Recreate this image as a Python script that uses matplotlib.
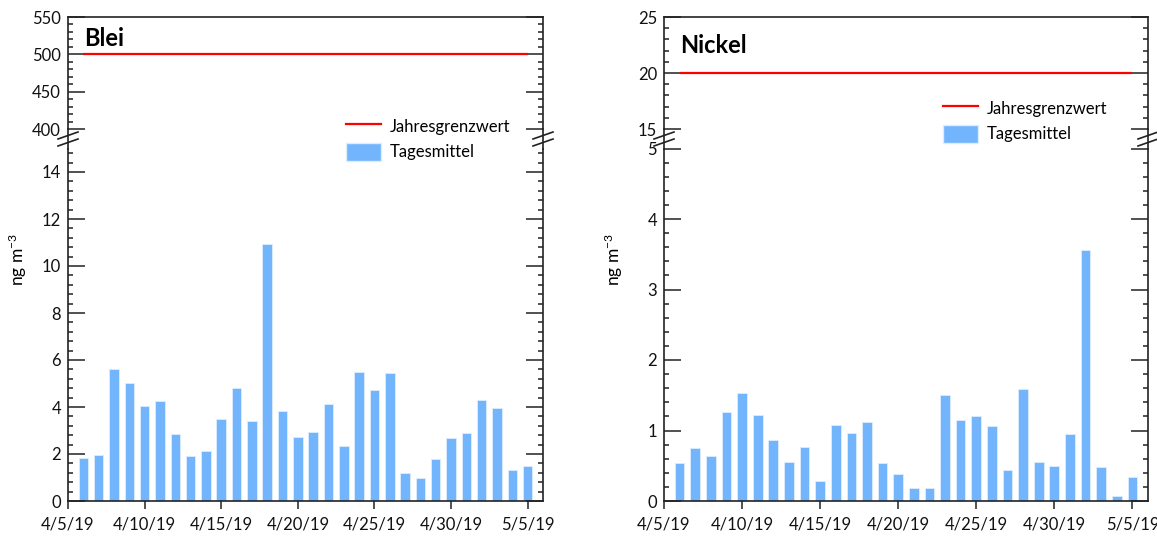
import pandas as pd
import matplotlib
matplotlib.use("Agg")
import matplotlib.pyplot as plt
from matplotlib.lines import Line2D
from matplotlib.patches import Patch
from matplotlib.ticker import MultipleLocator

plt.rcParams['font.family'] = ['Lato', 'DejaVu Sans']
plt.rcParams['mathtext.default'] = 'regular'

# Tagesmittel 6.4.2019 - 5.5.2019
tage = pd.date_range("2019-04-06", "2019-05-05", freq="D")
blei = [1.82, 1.96, 5.62, 5.03, 4.03, 4.24, 2.84, 1.90, 2.11, 3.51,
        4.79, 3.40, 10.95, 3.81, 2.73, 2.94, 4.14, 2.34, 5.49, 4.74,
        5.45, 1.19, 1.00, 1.79, 2.67, 2.91, 4.31, 3.96, 1.31, 1.47]
nickel = [0.545, 0.746, 0.636, 1.268, 1.526, 1.215, 0.861, 0.55, 0.761, 0.287,
          1.072, 0.962, 1.115, 0.541, 0.383, 0.182, 0.182, 1.507, 1.144, 1.201,
          1.062, 0.44, 1.589, 0.55, 0.498, 0.957, 3.56, 0.483, 0.072, 0.34]
grenzwert_blei = 500
grenzwert_nickel = 20
tick_tage = pd.date_range("2019-04-05", "2019-05-05", freq="5D")
tick_labels = [f"{d.month}/{d.day}/{d:%y}" for d in tick_tage]

W, H = 1157, 536
fig = plt.figure(figsize=(W / 100, H / 100), dpi=100)

BLAU = '#72b5fd'
ROT = '#ff0000'
SPINE = '#222222'


def px_axes(x0, x1, ytop, ybot):
    return fig.add_axes([x0 / W, 1 - ybot / H, (x1 - x0) / W, (ybot - ytop) / H])


def panel(x0, x1, werte, grenzwert, top_lim, top_step, top_minor,
          bot_lim, bot_step, bot_minor, titel, titel_y, leg_xy):
    ax_t = px_axes(x0, x1, 17, 129)
    ax_b = px_axes(x0, x1, 148.5, 501)
    xlim = (pd.Timestamp("2019-04-05"), pd.Timestamp("2019-05-06"))

    ax_t.hlines(grenzwert, tage[0], tage[-1], color=ROT, lw=1.6)
    ax_b.bar(tage, werte, width=0.62, color=BLAU, edgecolor='#dcedff', linewidth=0.6)

    for ax in (ax_t, ax_b):
        ax.set_xlim(*xlim)
        for s in ax.spines.values():
            s.set_color(SPINE)
            s.set_linewidth(1.2)
        ax.tick_params(axis='y', which='major', direction='in', length=12, width=1.1,
                       right=True, labelsize=12, pad=5, colors=SPINE, labelcolor='#111111')
        ax.tick_params(axis='y', which='minor', direction='in', length=3.5, width=1.1,
                       right=True, colors=SPINE)

    ax_t.set_ylim(*top_lim)
    ax_t.yaxis.set_major_locator(MultipleLocator(top_step))
    ax_t.yaxis.set_minor_locator(MultipleLocator(top_minor))
    ax_t.spines['bottom'].set_visible(False)
    ax_t.set_xticks([])

    ax_b.set_ylim(*bot_lim)
    ax_b.set_yticks([v for v in range(0, int(bot_lim[1]) + 1, bot_step) if v <= bot_lim[1]])
    ax_b.yaxis.set_minor_locator(MultipleLocator(bot_minor))
    ax_b.spines['top'].set_visible(False)
    ax_b.set_xticks(tick_tage)
    ax_b.set_xticklabels(tick_labels)
    ax_b.tick_params(axis='x', direction='out', length=6, width=1.1, labelsize=12,
                     pad=5, colors=SPINE, labelcolor='#111111')

    fig.text((x0 + 16) / W, 1 - titel_y / H, titel,
             fontsize=17, fontweight='bold', ha='left', va='baseline')

    # Achsenbruch
    for xs in (x0, x1):
        fig.add_artist(Line2D([xs / W, xs / W], [1 - 129 / H, 1 - 148.5 / H],
                              color=SPINE, lw=1.2))
        for dy in (0, 7):
            fig.add_artist(Line2D([(xs - 10) / W, (xs + 10) / W],
                                  [1 - (139 + dy) / H, 1 - (132 + dy) / H],
                                  color=SPINE, lw=1.2))

    handles = [Line2D([], [], color=ROT, lw=1.6), Patch(facecolor=BLAU, edgecolor='#dcedff')]
    fig.legend(handles, ['Jahresgrenzwert', 'Tagesmittel'], loc='upper left',
               bbox_to_anchor=(leg_xy[0] / W, 1 - leg_xy[1] / H), frameon=False,
               fontsize=12, handlelength=2.1, handleheight=1.3, handletextpad=0.5,
               labelspacing=0.45, borderpad=0, borderaxespad=0)


panel(68, 543, blei, grenzwert_blei, (400, 550), 50, 10, (0, 15), 2, 0.4,
      'Blei', 46, (346, 117))
panel(664, 1148, nickel, grenzwert_nickel, (15, 25), 5, 1, (0, 5), 1, 0.2,
      'Nickel', 53, (943, 99))

fig.text(18 / W, 1 - 259 / H, 'ng m$^{-3}$', rotation=90, ha='center', va='center', fontsize=12.5)
fig.text(614 / W, 1 - 259 / H, 'ng m$^{-3}$', rotation=90, ha='center', va='center', fontsize=12.5)

fig.savefig("out.png", dpi=100)
